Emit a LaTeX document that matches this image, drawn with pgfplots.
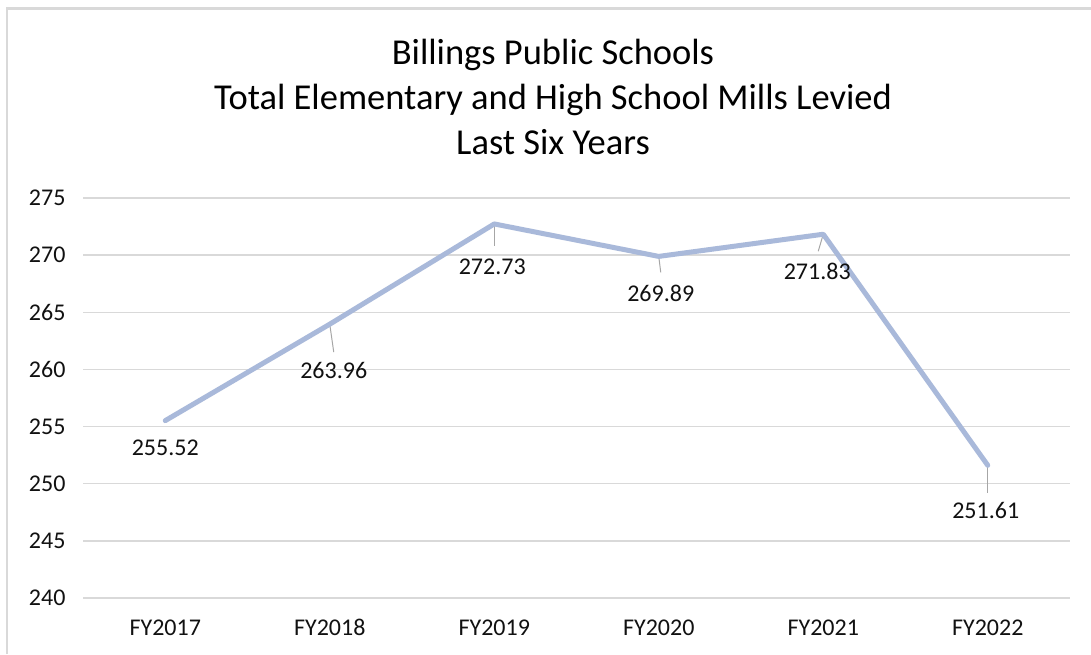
\documentclass[border=0pt]{standalone}
\usepackage{pgfplots}
\pgfplotsset{compat=1.18}
\usepackage{fontspec}
\setmainfont{Carlito}
\definecolor{linec}{HTML}{A9B9DA}
\definecolor{gridc}{HTML}{D9D9D9}
\definecolor{leadc}{HTML}{A6A6A6}
\definecolor{txt}{HTML}{111111}
\begin{document}
\begin{tikzpicture}[x=1pt,y=1pt,
  lbl/.style={font=\fontsize{24}{29}\selectfont, text=txt, inner sep=0pt, anchor=center},
  ldr/.style={leadc, line width=1pt}]
\useasboundingbox (0,0) rectangle (1091,654);
\fill[white] (0,0) rectangle (1091,654);
\draw[gridc, line width=2.2pt] (7,0) -- (7,645.5) -- (1091,645.5);
\node[anchor=base, font=\fontsize{36.5}{44}\selectfont, text=black] at (553,589) {Billings Public Schools};
\node[anchor=base, font=\fontsize{36.5}{44}\selectfont, text=black] at (553,544) {Total Elementary and High School Mills Levied};
\node[anchor=base, font=\fontsize{36.5}{44}\selectfont, text=black] at (553,499) {Last Six Years};
\begin{axis}[
  at={(83pt,56pt)}, anchor=south west,
  scale only axis, width=987pt, height=400pt,
  xmin=-0.5, xmax=5.5, ymin=240, ymax=275,
  ytick={240,245,...,275},
  xtick={0,1,2,3,4,5},
  xticklabels={FY2017,FY2018,FY2019,FY2020,FY2021,FY2022},
  ymajorgrids, grid style={gridc, line width=1.3pt},
  axis line style={draw=none},
  major tick length=0pt,
  tick label style={font=\fontsize{24}{29}\selectfont, text=txt},
  /pgf/number format/assume math mode=true,
  yticklabel style={xshift=-14pt},
  xticklabel style={yshift=-18pt},
  clip=false,
]
\draw[ldr] (axis cs:1,263.96) -- ++(4pt,-28pt);
\draw[ldr] (axis cs:2,272.73) -- ++(0pt,-22pt);
\draw[ldr] (axis cs:3,269.89) -- ++(2pt,-16pt);
\draw[ldr] (axis cs:4,271.83) -- ++(-5pt,-17pt);
\draw[ldr] (axis cs:5,251.61) -- ++(0pt,-28pt);
\addplot[linec, line width=5pt, mark=none, line join=round, line cap=round]
  coordinates {(0,255.52) (1,263.96) (2,272.73) (3,269.89) (4,271.83) (5,251.61)};
\node[lbl] at ([shift={(0pt,-27.3pt)}]axis cs:0,255.52) {255.52};
\node[lbl] at ([shift={(4pt,-46.8pt)}]axis cs:1,263.96) {263.96};
\node[lbl] at ([shift={(-2pt,-43pt)}]axis cs:2,272.73) {272.73};
\node[lbl] at ([shift={(2pt,-36.6pt)}]axis cs:3,269.89) {269.89};
\node[lbl] at ([shift={(-6pt,-36.8pt)}]axis cs:4,271.83) {271.83};
\node[lbl] at ([shift={(-2pt,-45.6pt)}]axis cs:5,251.61) {251.61};
\end{axis}
\end{tikzpicture}
\end{document}
